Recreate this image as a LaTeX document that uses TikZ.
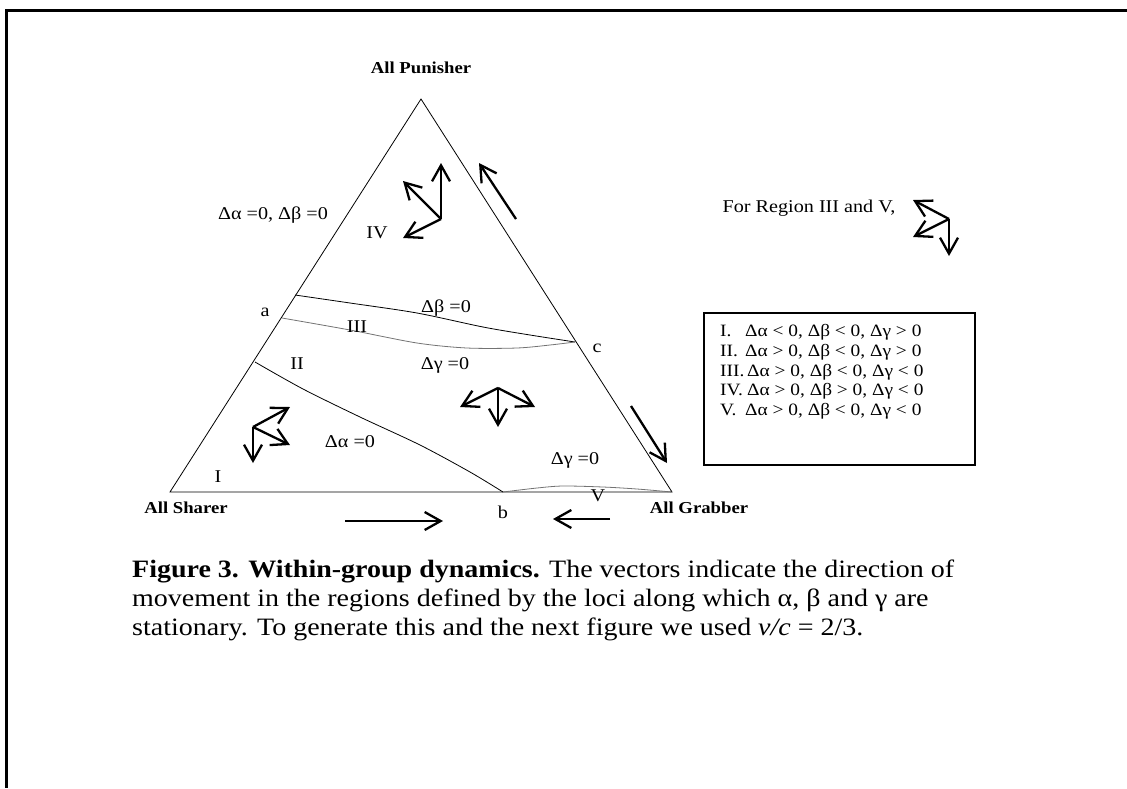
\documentclass[tikz,border=0pt]{standalone}
\usepackage{fontspec}
\setmainfont{Liberation Serif}[FakeStretch=1.12]
\usetikzlibrary{arrows.meta}
\begin{document}
\begin{tikzpicture}[x=1pt,y=-1pt,
  lbl/.style={font=\fontsize{18}{20}\selectfont, inner sep=0pt},
  corner/.style={font=\fontsize{16.7}{20}\selectfont\bfseries, inner sep=0pt},
  legline/.style={font=\fontsize{17.3}{20}\selectfont, inner sep=0pt, anchor=base west},
  capline/.style={font=\fontsize{25}{29}\selectfont, inner sep=0pt, anchor=base west},
  vec/.style={line width=2.3pt, -{Straight Barb[length=16pt,width=18pt,line width=2.3pt]}},
  side/.style={line width=0.8pt},
  locus/.style={line width=0.8pt, black},
  glocus/.style={line width=0.8pt, black!55}]
\useasboundingbox (0,0) rectangle (1127,788);
% frame
\draw[line width=3pt] (1127,10) -- (6,10) -- (6,788);
% triangle
\coordinate (A) at (421,99);
\coordinate (S) at (170,492);
\coordinate (G) at (672,492);
\draw[side] (A) -- (S) -- (G) -- cycle;
% loci
\coordinate (a1) at (295,295);
\coordinate (a2) at (282,318);
\coordinate (c) at (575,342);
\coordinate (b) at (503,492);
\coordinate (d) at (255,362);
\draw[locus] plot[smooth, tension=0.5] coordinates {(a1) (350,303) (417,313) (483,327) (530,335) (c)};
\draw[glocus] plot[smooth, tension=0.5] coordinates {(a2) (350,330) (417,343) (467,348) (517,348) (550,345) (c)};
\draw[locus] plot[smooth, tension=0.5] coordinates {(d) (303,389) (360,417) (420,445) (470,472) (b)};
\draw[glocus] plot[smooth, tension=0.5] coordinates {(b) (537,488) (563,486) (603,487) (637,489) (G)};
% corner labels
\node[corner] (np) at (421,68) {All Punisher};
\node[corner] (ns) at (186,508) {All Sharer};
\node[corner] (ng) at (699,508) {All Grabber};
\node[lbl] (la) at (265,312) {a};
\node[lbl] (lb) at (503,512) {b};
\node[lbl] (lc) at (597,348) {c};
% region labels
\node[lbl] (l4) at (377,233) {IV};
\node[lbl] (l3) at (357,327) {III};
\node[lbl] (l2) at (297,364) {II};
\node[lbl] (l1) at (218,477) {I};
\node[lbl] (l5) at (598,496) {V};
\node[lbl] (lab) at (273,215) {Δα =0, Δβ =0};
\node[lbl] (lbeta) at (446,308) {Δβ =0};
\node[lbl] (lgam) at (445,365) {Δγ =0};
\node[lbl] (lalp) at (350,442) {Δα =0};
\node[lbl] (lgam2) at (575,460) {Δγ =0};
% vectors region IV
\coordinate (o4) at (441,219);
\coordinate (o4a) at (441,163);
\coordinate (o4b) at (403,181);
\coordinate (o4c) at (403,238);
\draw[vec] (o4) -- (o4a);
\draw[vec] (o4) -- (o4b);
\draw[vec] (o4) -- (o4c);
% side arrows
\coordinate (r1s) at (516,219); \coordinate (r1e) at (479,163);
\draw[vec] (r1s) -- (r1e);
\coordinate (r2s) at (631,406); \coordinate (r2e) at (667,463);
\draw[vec] (r2s) -- (r2e);
\coordinate (b1s) at (345,521); \coordinate (b1e) at (443,521);
\draw[vec] (b1s) -- (b1e);
\coordinate (b2s) at (610,519); \coordinate (b2e) at (553,519);
\draw[vec] (b2s) -- (b2e);
% middle vectors
\coordinate (om) at (498,388);
\coordinate (oma) at (460,407);
\coordinate (omb) at (535,407);
\coordinate (omc) at (498,427);
\draw[vec] (om) -- (oma);
\draw[vec] (om) -- (omb);
\draw[vec] (om) -- (omc);
% region I vectors
\coordinate (o1) at (253,427);
\coordinate (o1a) at (290,407);
\coordinate (o1b) at (290,445);
\coordinate (o1c) at (253,463);
\draw[vec] (o1) -- (o1a);
\draw[vec] (o1) -- (o1b);
\draw[vec] (o1) -- (o1c);
% region III and V note
\node[lbl] (note) at (809,208) {For Region III and V,};
\coordinate (o5) at (949,219);
\coordinate (o5a) at (913,200);
\coordinate (o5b) at (913,237);
\coordinate (o5c) at (949,256);
\draw[vec] (o5) -- (o5a);
\draw[vec] (o5) -- (o5b);
\draw[vec] (o5) -- (o5c);
% legend
\draw[line width=1.2pt] (704,313) rectangle (975,465);
\node[legline] (leg1) at (720,336) {\makebox[25pt][l]{I.}Δα < 0, Δβ < 0, Δγ > 0};
\node[legline] (leg2) at (720,356) {\makebox[25pt][l]{II.}Δα > 0, Δβ < 0, Δγ > 0};
\node[legline] (leg3) at (720,376) {\makebox[27pt][l]{III.}Δα > 0, Δβ < 0, Δγ < 0};
\node[legline] (leg4) at (720,395) {\makebox[27pt][l]{IV.}Δα > 0, Δβ > 0, Δγ < 0};
\node[legline] (leg5) at (720,415) {\makebox[25pt][l]{V.}Δα > 0, Δβ < 0, Δγ < 0};
% caption
\node[capline] (cap1) at (132,577) {\textbf{Figure 3. Within-group dynamics.} The vectors indicate the direction of};
\node[capline] (cap2) at (132,606) {movement in the regions defined by the loci along which α, β and γ are};
\node[capline] (cap3) at (132,635) {stationary. To generate this and the next figure we used \textit{v/c} = 2/3.};
\end{tikzpicture}
\end{document}
